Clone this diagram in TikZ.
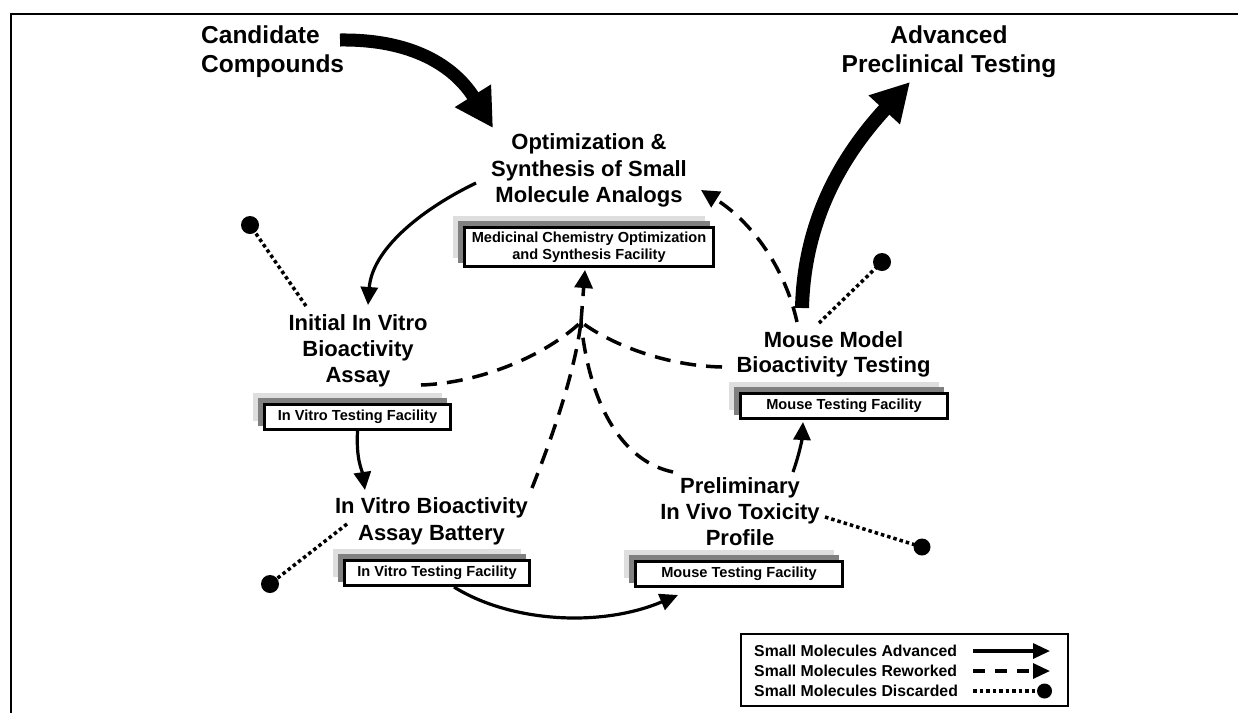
\documentclass[tikz,border=0pt]{standalone}
\usepackage{fontspec}
\setmainfont{Liberation Sans}
\usetikzlibrary{arrows.meta,backgrounds}
\begin{document}
\begin{tikzpicture}[x=1pt,y=-1pt,
  lbl/.style={font=\bfseries\fontsize{22}{#1}\selectfont, align=center, inner sep=0pt},
  lbl/.default=26,
  toplbl/.style={font=\bfseries\fontsize{24.5}{29}\selectfont, align=center, inner sep=0pt},
  facbox/.style={draw=black, line width=2.7pt, fill=white, inner sep=0pt, align=center,
    font=\bfseries\fontsize{14.6}{17}\selectfont},
  advline/.style={line width=3.2pt, -{Triangle[length=18pt,width=17pt]}},
  rew/.style={line width=3.5pt, dash pattern=on 16pt off 10pt},
  rewarrow/.style={rew, -{Triangle[length=18pt,width=18pt]}},
  disc/.style={line width=3.5pt, dash pattern=on 3.5pt off 3pt},
  bigarrow/.style={line width=13pt, -{Triangle[length=38pt,width=40pt]}},
  shlight/.style={fill=black!13},
  shdark/.style={fill=black!50},
  legtxt/.style={font=\bfseries\fontsize{15.8}{20}\selectfont, inner sep=0pt, anchor=west},
]
\useasboundingbox (0,0) rectangle (1238,713);
% frame
\draw[line width=2pt] (10.5,713) -- (10.5,13.5) -- (1238,13.5);

% labels
\node[toplbl, anchor=west, align=left] (cand) at (201,52) {Candidate\\Compounds};
\node[toplbl] (adv) at (949,51.8) {Advanced\\Preclinical Testing};
\node[lbl=26.5] (opt) at (589,170.5) {Optimization \&\\Synthesis of Small\\Molecule Analogs};
\node[lbl=26] (init) at (358,351.3) {Initial In Vitro\\Bioactivity\\Assay};
\node[lbl=27] (bat) at (431.5,520.8) {In Vitro Bioactivity\\Assay Battery};
\node[lbl=25] (mouse) at (833.5,354.8) {Mouse Model\\Bioactivity Testing};
\node[lbl=26] (prel) at (740,511.2) {Preliminary\\In Vivo Toxicity\\Profile};

% facility boxes
\node[facbox, minimum width=249.3pt, minimum height=39.3pt] (medbox) at (589,247)
  {Medicinal Chemistry Optimization\\and Synthesis Facility};
\node[facbox, minimum width=186.3pt, minimum height=25.3pt] (initbox) at (357.5,417) {In Vitro Testing Facility};
\node[facbox, minimum width=185.3pt, minimum height=25.3pt] (batbox) at (437,573) {In Vitro Testing Facility};
\node[facbox, minimum width=207.3pt, minimum height=25.3pt] (mousebox) at (844,406) {Mouse Testing Facility};
\node[facbox, minimum width=207.3pt, minimum height=25.3pt] (prelbox) at (739,574) {Mouse Testing Facility};

\begin{scope}[on background layer]
\foreach \b in {medbox,initbox,batbox,mousebox,prelbox}{
  \fill[shlight] ([shift={(-10pt,10pt)}]\b.north west) rectangle ([shift={(-10pt,10pt)}]\b.south east);
  \fill[shdark] ([shift={(-5.5pt,5.5pt)}]\b.north west) rectangle ([shift={(-5.5pt,5.5pt)}]\b.south east);
}
\end{scope}

% big arrows
\coordinate (c1s) at (340,40);
\coordinate (c1e) at (493,128);
\draw[bigarrow] (c1s) .. controls (420,39) and (458,72) .. (c1e);
\coordinate (c2s) at (802,308);
\coordinate (c2e) at (910,82);
\draw[bigarrow, line width=14pt] (c2s) .. controls (804,225) and (838,160) .. (c2e);

% advanced (solid) connectors
\coordinate (a1s) at (476,183);
\coordinate (a1e) at (368,305);
\draw[advline] (a1s) .. controls (420,210) and (372,250) .. (a1e);
\coordinate (a2e) at (365,490);
\draw[advline] (initbox.south) .. controls (356,460) and (362,470) .. (a2e);
\coordinate (a3s) at (454,587);
\coordinate (a3e) at (678,595);
\draw[advline] (a3s) .. controls (510,622) and (600,628) .. (a3e);
\coordinate (a4s) at (793,472);
\coordinate (a4e) at (803,422);
\draw[advline] (a4s) .. controls (799,455) and (802,440) .. (a4e);

% reworked (dashed) connectors
\coordinate (m) at (581,322);
\coordinate (r1) at (421,385);
\coordinate (r2) at (722,367);
\coordinate (r3) at (532,488);
\coordinate (r4) at (673,472);
\coordinate (rt) at (585,270);
\draw[rew] (r1) .. controls (480,383) and (545,356) .. (m);
\draw[rew] (r2) .. controls (670,366) and (615,347) .. (m);
\draw[rew] (r3) .. controls (555,430) and (575,370) .. (m);
\draw[rew] (r4) .. controls (625,462) and (590,410) .. (m);
\draw[rewarrow] (m) -- (rt);
\coordinate (r5s) at (797,322);
\coordinate (r5e) at (701,190);
\draw[rewarrow] (r5s) .. controls (785,268) and (752,222) .. (r5e);

% discarded (dotted) connectors
\coordinate (x1) at (306,306);  \coordinate (d1) at (250,225);
\coordinate (x2) at (347,524);  \coordinate (d2) at (270,584);
\coordinate (x3) at (819,323);  \coordinate (d3) at (882,262);
\coordinate (x4) at (825,517);  \coordinate (d4) at (922,547);
\draw[disc] (x1) -- (d1); \fill (d1) circle[radius=9pt];
\draw[disc] (x2) -- (d2); \fill (d2) circle[radius=9pt];
\draw[disc] (x3) -- (d3); \fill (d3) circle[radius=9pt];
\draw[disc] (x4) -- (d4); \fill (d4) circle[radius=8.5pt];

% legend
\node[draw, line width=2pt, minimum width=327pt, minimum height=72pt, inner sep=0pt] (legend) at (904.5,670) {};
\node[legtxt] (l1) at (754,651) {Small Molecules Advanced};
\node[legtxt] (l2) at (754,671) {Small Molecules Reworked};
\node[legtxt] (l3) at (754,691) {Small Molecules Discarded};
\coordinate (ls1) at (973,651); \coordinate (le1) at (1050,651);
\coordinate (ls2) at (973,671); \coordinate (le2) at (1050,671);
\coordinate (ls3) at (973,691); \coordinate (ld) at (1044.5,691);
\draw[line width=3.2pt, -{Triangle[length=17pt,width=15pt]}] (ls1) -- (le1);
\draw[line width=3.2pt, dash pattern=on 12pt off 10pt, -{Triangle[length=17pt,width=15pt]}] (ls2) -- (le2);
\draw[disc] (ls3) -- (ld); \fill (ld) circle[radius=7.5pt];
\end{tikzpicture}
\end{document}
